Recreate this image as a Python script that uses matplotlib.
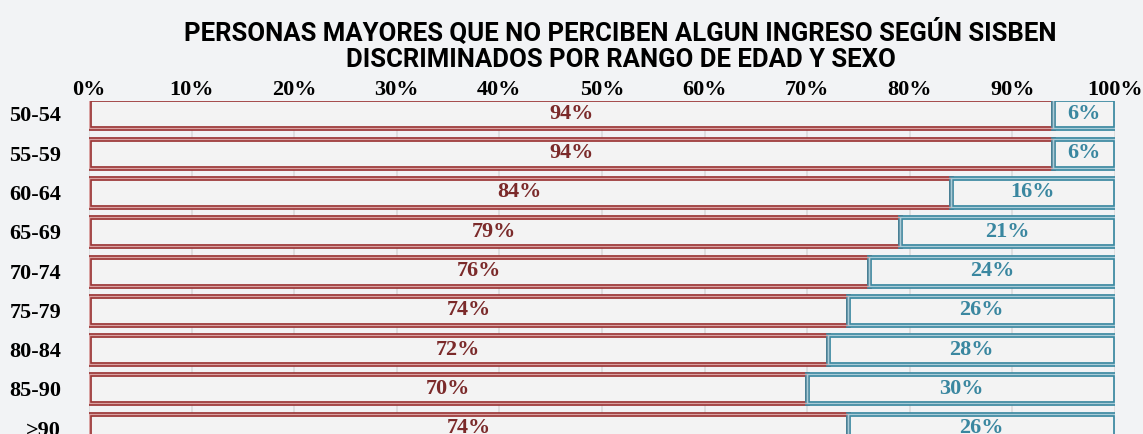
import matplotlib.pyplot as plt
import numpy as np

categories = ["50-54", "55-59", "60-64", "65-69", "70-74", "75-79", "80-84", "85-90", ">90"]
serie_roja = [94, 94, 84, 79, 76, 74, 72, 70, 74]
serie_azul = [6, 6, 16, 21, 24, 26, 28, 30, 26]
ticks = [0, 10, 20, 30, 40, 50, 60, 70, 80, 90, 100]

rojo = "#9a3434"
rojo_claro = "#d9a3a3"
azul = "#3a87a0"
azul_claro = "#a9ccd8"
fondo = "#f2f3f5"
relleno = "#f3f3f3"

fig = plt.figure(figsize=(11.43, 4.34), dpi=100)
fig.patch.set_facecolor(fondo)
ax = fig.add_axes([89 / 1143, 0, (1115 - 89) / 1143, (434 - 101) / 434])
ax.set_facecolor(fondo)

y = np.arange(len(categories))
h = 0.74
rojo_v = np.array(serie_roja, dtype=float)
azul_v = np.array(serie_azul, dtype=float)

# doble borde: linea gruesa oscura y una fina clara encima
ax.barh(y, rojo_v, height=h, color=relleno, edgecolor=rojo, linewidth=3.4, zorder=3)
ax.barh(y, rojo_v, height=h, color="none", edgecolor=rojo_claro, linewidth=1.0, zorder=4)
ax.barh(y, azul_v, left=rojo_v, height=h, color=relleno, edgecolor=azul, linewidth=3.4, zorder=3)
ax.barh(y, azul_v, left=rojo_v, height=h, color="none", edgecolor=azul_claro, linewidth=1.0, zorder=4)

serif = ["Liberation Serif", "DejaVu Serif"]
for i in range(len(categories)):
    ax.text(rojo_v[i] / 2, y[i], f"{serie_roja[i]}%", ha="center", va="center",
            color="#7b2a2a", fontsize=16, fontweight="bold", family=serif, zorder=5)
    ax.text(rojo_v[i] + azul_v[i] / 2, y[i], f"{serie_azul[i]}%", ha="center", va="center",
            color=azul, fontsize=16, fontweight="bold", family=serif, zorder=5)

ax.set_xlim(0, 100)
ax.set_ylim(8.15, -0.33)
ax.set_xticks(ticks)
ax.set_xticklabels([f"{t}%" for t in ticks], fontsize=16, fontweight="bold", family=serif)
ax.xaxis.tick_top()
ax.set_yticks(y)
ax.set_yticklabels(categories, fontsize=16, fontweight="bold", family=serif)
ax.tick_params(length=0, pad=20)
ax.tick_params(axis="x", pad=1)
ax.grid(axis="x", color="#dcdcdc", linewidth=1.2, zorder=0)
for s in ax.spines.values():
    s.set_visible(False)

fig.text(0.543, 0.895, "PERSONAS MAYORES QUE NO PERCIBEN ALGUN INGRESO SEGÚN SISBEN\nDISCRIMINADOS POR RANGO DE EDAD Y SEXO",
         ha="center", va="center", fontsize=18.5, fontweight="bold", linespacing=1.1,
         family=["Roboto", "DejaVu Sans"])

fig.savefig("out.png", dpi=100, facecolor=fig.get_facecolor())
